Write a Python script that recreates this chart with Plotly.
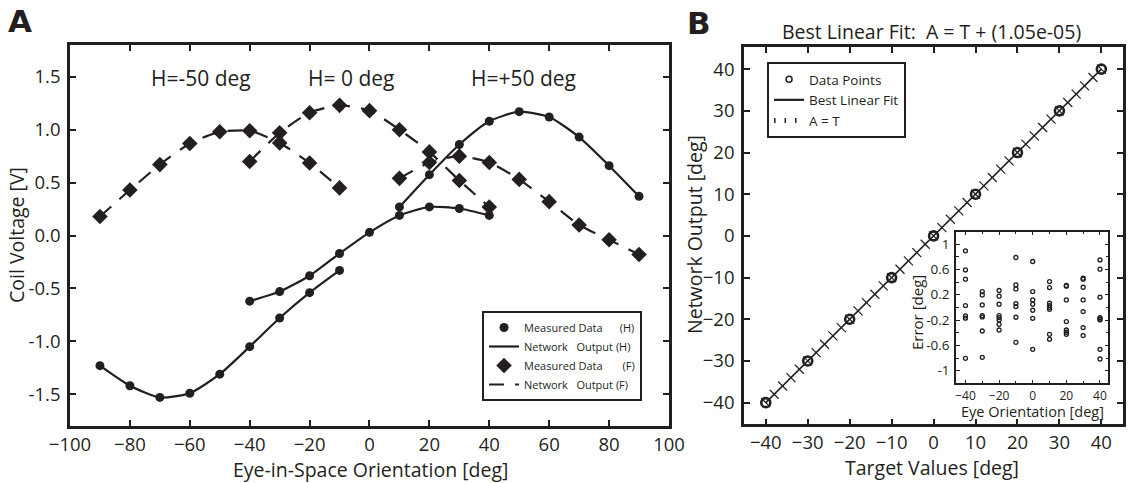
import plotly.graph_objects as go

# ---------------- Panel A data ----------------
h_neg50_x = [-90, -80, -70, -60, -50, -40, -30, -20, -10]
h_neg50_y = [-1.23, -1.42, -1.53, -1.49, -1.31, -1.05, -0.78, -0.54, -0.33]
h_zero_x = [-40, -30, -20, -10, 0, 10, 20, 30, 40]
h_zero_y = [-0.62, -0.53, -0.38, -0.17, 0.03, 0.19, 0.27, 0.255, 0.19]
h_pos50_x = [10, 20, 30, 40, 50, 60, 70, 80, 90]
h_pos50_y = [0.27, 0.575, 0.86, 1.08, 1.17, 1.12, 0.93, 0.66, 0.37]

f_neg50_x = [-90, -80, -70, -60, -50, -40, -30, -20, -10]
f_neg50_y = [0.18, 0.43, 0.67, 0.87, 0.98, 0.99, 0.875, 0.685, 0.45]
f_zero_x = [-40, -30, -20, -10, 0, 10, 20, 30, 40]
f_zero_y = [0.70, 0.97, 1.16, 1.23, 1.18, 1.00, 0.79, 0.52, 0.27]
f_pos50_x = [10, 20, 30, 40, 50, 60, 70, 80, 90]
f_pos50_y = [0.54, 0.69, 0.75, 0.69, 0.53, 0.32, 0.10, -0.04, -0.18]

a_xticks = [-100, -80, -60, -40, -20, 0, 20, 40, 60, 80, 100]
a_yticks = [-1.5, -1.0, -0.5, 0.0, 0.5, 1.0, 1.5]
a_yticklabels = ["-1.5", "-1.0", "-0.5", "0.0", "0.5", "1.0", "1.5"]

# ---------------- Panel B data ----------------
target_values = [-40, -30, -20, -10, 0, 10, 20, 30, 40]
network_output = [-40, -30, -20, -10, 0, 10, 20, 30, 40]
fit_x = [-40, 40]
fit_y = [-40 + 1.05e-05, 40 + 1.05e-05]
identity_ticks = [-40, -38, -36, -34, -32, -30, -28, -26, -24, -22, -20, -18, -16,
                  -14, -12, -10, -8, -6, -4, -2, 0, 2, 4, 6, 8, 10, 12, 14, 16, 18,
                  20, 22, 24, 26, 28, 30, 32, 34, 36, 38, 40]
b_ticks = [-40, -30, -20, -10, 0, 10, 20, 30, 40]

# inset: error per eye orientation
err_m40 = [0.894, 0.593, 0.446, 0.029, -0.135, -0.17, -0.805]
err_m30 = [0.251, 0.197, 0.039, -0.129, -0.151, -0.373, -0.79]
err_m20 = [0.267, 0.177, 0.05, -0.129, -0.161, -0.198, -0.267, -0.357]
err_m10 = [0.789, 0.356, 0.292, 0.06, 0.013, -0.156, -0.552]
err_0 = [0.726, 0.251, 0.118, 0.05, -0.045, -0.172, -0.663]
err_p10 = [0.409, 0.314, 0.066, 0.029, 0.002, -0.029, -0.425, -0.504]
err_p20 = [0.346, 0.335, 0.118, -0.224, -0.357, -0.393, -0.425]
err_p30 = [0.462, 0.446, 0.319, 0.118, -0.066, -0.319, -0.446]
err_p40 = [0.751, 0.604, 0.161, -0.161, -0.183, -0.198, -0.663, -0.816]
err_orient = [-40, -30, -20, -10, 0, 10, 20, 30, 40]
err_groups = [err_m40, err_m30, err_m20, err_m10, err_0, err_p10, err_p20, err_p30, err_p40]
inset_xticks = [-40, -20, 0, 20, 40]
inset_yticks = [-1, -0.6, -0.2, 0.2, 0.6, 1]
inset_yticklabels = ["-1", "-0.6", "-0.2", "0.2", "0.6", "1"]

INK = "#231f20"
FONT = "Open Sans"


def join(xs_list, ys_list):
    X, Y = [], []
    for xs, ys in zip(xs_list, ys_list):
        if X:
            X.append(None)
            Y.append(None)
        X.extend(xs)
        Y.extend(ys)
    return X, Y


fig = go.Figure()

hx, hy = join([h_neg50_x, h_zero_x, h_pos50_x], [h_neg50_y, h_zero_y, h_pos50_y])
fx, fy = join([f_neg50_x, f_zero_x, f_pos50_x], [f_neg50_y, f_zero_y, f_pos50_y])

NB = "\u00a0"
fig.add_trace(go.Scatter(x=hx, y=hy, mode="markers", name="Measured Data" + NB * 6 + "(H)",
                         marker=dict(symbol="circle", size=9, color=INK),
                         legend="legend", xaxis="x", yaxis="y"))
fig.add_trace(go.Scatter(x=hx, y=hy, mode="lines", name="Network" + NB * 3 + "Output (H)",
                         line=dict(color=INK, width=2.2, shape="spline", smoothing=0.6),
                         legend="legend", xaxis="x", yaxis="y"))
fig.add_trace(go.Scatter(x=fx, y=fy, mode="markers", name="Measured Data" + NB * 7 + "(F)",
                         marker=dict(symbol="diamond", size=12, color=INK),
                         legend="legend", xaxis="x", yaxis="y"))
fig.add_trace(go.Scatter(x=fx, y=fy, mode="lines", name="Network" + NB * 3 + "Output (F)",
                         line=dict(color=INK, width=2.2, dash="15px,11px", shape="spline", smoothing=0.6),
                         legend="legend", xaxis="x", yaxis="y"))

# Panel B (plotted marks; legend entries supplied by legend-only glyph traces below)
fig.add_trace(go.Scatter(x=target_values, y=network_output, mode="markers", name="Data Points",
                         showlegend=False,
                         marker=dict(symbol="circle-open", size=9, color=INK, line=dict(width=2.6, color=INK)),
                         xaxis="x2", yaxis="y2"))
fig.add_trace(go.Scatter(x=fit_x, y=fit_y, mode="lines", name="Best Linear Fit",
                         showlegend=False, line=dict(color=INK, width=1.6),
                         xaxis="x2", yaxis="y2"))
fig.add_trace(go.Scatter(x=identity_ticks, y=identity_ticks, mode="markers", name="A = T",
                         showlegend=False,
                         marker=dict(symbol="line-nw", size=9, color=INK, line=dict(width=1.2, color=INK)),
                         xaxis="x2", yaxis="y2"))
# legend glyphs for panel B
fig.add_trace(go.Scatter(x=[None], y=[None], mode="markers", name="Data Points",
                         marker=dict(symbol="circle-open", size=6, color=INK, line=dict(width=1.5, color=INK)),
                         legend="legend2", xaxis="x2", yaxis="y2"))
fig.add_trace(go.Scatter(x=[None], y=[None], mode="lines", name="Best Linear Fit",
                         line=dict(color=INK, width=2.2), legend="legend2", xaxis="x2", yaxis="y2"))
fig.add_trace(go.Scatter(x=[None], y=[None], mode="lines", name="A = T",
                         line=dict(color=INK, width=5, dash="1.5px,9px"),
                         legend="legend2", xaxis="x2", yaxis="y2"))

# Inset
ix, iy = [], []
for o, g in zip(err_orient, err_groups):
    ix.extend([o] * len(g))
    iy.extend(g)
fig.add_trace(go.Scatter(x=ix, y=iy, mode="markers", showlegend=False,
                         marker=dict(symbol="circle-open", size=4, color=INK, line=dict(width=1.3, color=INK)),
                         xaxis="x3", yaxis="y3"))

axis_common = dict(showgrid=False, zeroline=False, showline=True, linecolor=INK,
                   ticks="inside", tickcolor=INK, mirror="ticks", automargin=False,
                   tickfont=dict(family=FONT, size=18.5, color=INK))

inset_common = dict(showgrid=False, zeroline=False, showline=True, linecolor=INK, linewidth=1.6,
                    ticks="inside", ticklen=4, tickwidth=1.2, tickcolor=INK, mirror="ticks",
                    automargin=False)

fig.update_layout(
    width=1131, height=483,
    margin=dict(l=0, r=0, t=0, b=0, autoexpand=False),
    paper_bgcolor="white", plot_bgcolor="rgba(0,0,0,0)",
    font=dict(family=FONT, color=INK),
    xaxis=dict(domain=[0.0619, 0.5915], range=[-100, 100], tickvals=a_xticks,
               linewidth=2.5, ticklen=6, tickwidth=2, anchor="y", **axis_common),
    yaxis=dict(domain=[0.118, 0.9068], range=[-1.8, 1.8], tickvals=a_yticks,
               ticktext=a_yticklabels, linewidth=2.5, ticklen=6, tickwidth=2,
               anchor="x", ticklabelstandoff=3, **axis_common),
    xaxis2=dict(domain=[0.6578, 0.9927], range=[-45.2, 45.1], tickvals=b_ticks,
                linewidth=2.5, ticklen=6, tickwidth=2, anchor="y2", **axis_common),
    yaxis2=dict(domain=[0.1215, 0.9017], range=[-45.2, 45.2], tickvals=b_ticks,
                linewidth=2.5, ticklen=6, tickwidth=2, anchor="x2", ticklabelstandoff=3,
                **axis_common),
    xaxis3=dict(domain=[0.8453, 0.98], range=[-45.6, 45], tickvals=inset_xticks,
                minor=dict(dtick=10, tick0=0, ticks="inside", ticklen=3, tickcolor=INK),
                anchor="y3", ticklabelstandoff=0,
                tickfont=dict(family=FONT, size=12, color=INK), **inset_common),
    yaxis3=dict(domain=[0.2064, 0.5207], range=[-1.2, 1.2], tickvals=inset_yticks,
                ticktext=inset_yticklabels,
                minor=dict(dtick=0.2, tick0=0, ticks="inside", ticklen=3, tickcolor=INK),
                anchor="x3", ticklabelstandoff=2,
                tickfont=dict(family=FONT, size=13.5, color=INK), **inset_common),
    legend=dict(x=0.4262, y=0.3561, xanchor="left", yanchor="top",
                bordercolor=INK, borderwidth=2, bgcolor="white",
                font=dict(family=FONT, size=11, color=INK), tracegroupgap=0,
                itemwidth=30),
    legend2=dict(x=0.6782, y=0.8716, xanchor="left", yanchor="top",
                 bordercolor=INK, borderwidth=2, bgcolor="white",
                 font=dict(family=FONT, size=13.5, color=INK), tracegroupgap=0,
                 itemwidth=30),
    shapes=[dict(type="rect", xref="paper", yref="paper", x0=0.8453, x1=0.98,
                 y0=0.2064, y1=0.5207, fillcolor="white", line=dict(width=0), layer="below")],
)

ann = []
def txt(x, y, s, size, xref="paper", yref="paper", angle=0, bold=False, family=FONT):
    ann.append(dict(x=x, y=y, xref=xref, yref=yref, text=("<b>%s</b>" % s if bold else s),
                    showarrow=False, textangle=angle, xanchor="center", yanchor="middle",
                    font=dict(family=family, size=size, color=INK)))

txt(20.5 / 1131, 1 - 21.5 / 483, "A", 31, bold=True, family="DejaVu Sans")
txt(699 / 1131, 1 - 22.5 / 483, "B", 31, bold=True, family="DejaVu Sans")
txt(370 / 1131, 1 - 469 / 483, "Eye-in-Space Orientation [deg]", 19.5)
txt(16 / 1131, 1 - 235 / 483, "Coil Voltage [V]", 19.5, angle=-90)
txt(932 / 1131, 1 - 467 / 483, "Target Values [deg]", 19.5)
txt(694 / 1131, 1 - 235 / 483, "Network Output [deg]", 19.5, angle=-90)
txt(931 / 1131, 1 - 32 / 483, "Best Linear Fit:  A = T + (1.05e-05)", 19.5)
txt(1032 / 1131, 1 - 411 / 483, "Eye Orientation [deg]", 14.5)
txt(917 / 1131, 1 - 313 / 483, "Error [deg]", 15, angle=-90)
txt(-56.1, 1.49, "H=-50 deg", 21, xref="x", yref="y")
txt(-6.2, 1.49, "H= 0 deg", 21, xref="x", yref="y")
txt(51.3, 1.49, "H=+50 deg", 21, xref="x", yref="y")
fig.update_layout(annotations=ann)

fig.write_html("out.html")
